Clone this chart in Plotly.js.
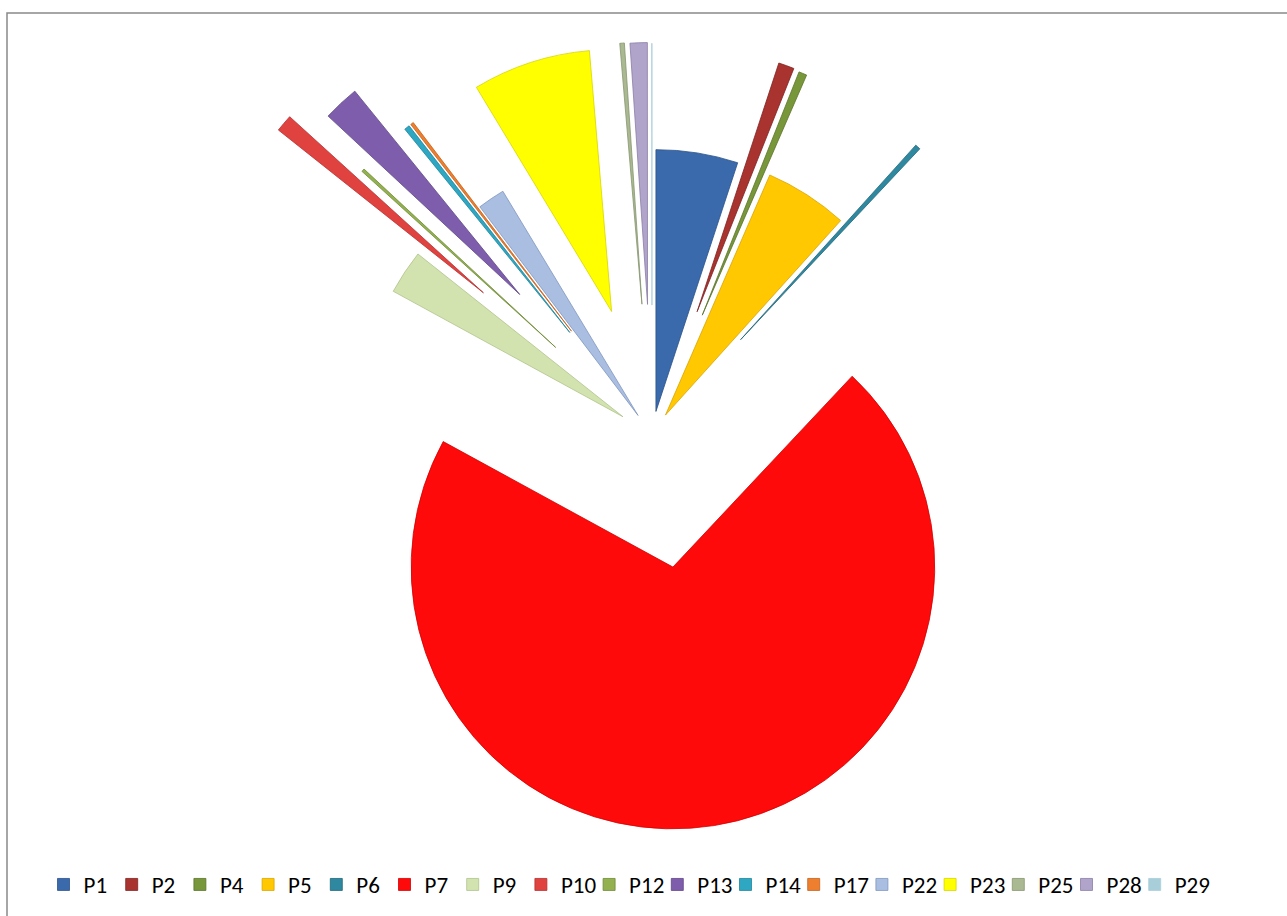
<!DOCTYPE html>
<html>
<head>
<meta charset="utf-8">
<script src="https://cdn.plot.ly/plotly-3.0.1.min.js"></script>
<style>
  html, body { margin: 0; padding: 0; overflow: hidden; background: #ffffff; }
  #wrap { position: relative; width: 1287px; height: 916px; overflow: hidden; }
  #chart { position: absolute; left: 0; top: -47px; width: 1287px; height: 1000px; }
</style>
</head>
<body>
<div id="wrap"><div id="chart"></div></div>
<script>
// ---- data (share of the whole, %) ----
const labels = ['P1','P2','P4','P5','P6','P7','P9','P10','P12','P13','P14','P17','P22','P23','P25','P28','P29'];
const values = [5.05, 0.97, 0.50, 5.14, 0.33, 70.90, 2.72, 1.06, 0.19, 2.22, 0.33, 0.19, 1.69, 7.28, 0.28, 1.06, 0.01];
// explosion of each slice (fraction of radius)
const pulls  = [0.095, 0.505, 0.50, 0.095, 0.50, 0.507, 0.133, 0.845, 0.50, 0.74, 0.505, 0.505, 0.095, 0.50, 0.505, 0.503, 0.50];
const colors = ['#3A6AAB','#A8332F','#78963A','#FFC800','#2E88A0','#FF0A0A','#D3E3B0','#E0423F','#93B24F','#7E5EAC','#2EA7C3','#EE7F2E','#A9BEE0','#FFFF00','#AAB992','#B1A4CB','#A8CEDA'];
const edges  = ['#2A5289','#7F2321','#5A7429','#D9A500','#1F6678','#D00000','#AFC48A','#B43030','#6F8A36','#5E4585','#1F849B','#C4611C','#7F96BF','#D6D600','#869570','#8A7DA6','#A8CEDA'];

// ---- layout geometry ----
const W = 1287, H = 1000;
const M = { l: 17, r: 0, t: 0, b: 34 };
const pw = W - M.l - M.r, ph = H - M.t - M.b;
const OFFSET = 47; // page y = figure y - OFFSET
const px2x = px => (px - M.l) / pw;
const py2y = py => (ph - (py + OFFSET - M.t)) / ph;

const trace = {
  type: 'pie',
  labels: labels,
  values: values,
  pull: pulls,
  sort: false,
  direction: 'clockwise',
  rotation: 0,
  textinfo: 'none',
  hoverinfo: 'label+percent',
  marker: { colors: colors, line: { color: edges, width: 0.8 } },
  showlegend: true
};

const layout = {
  width: W, height: H,
  margin: M,
  paper_bgcolor: '#ffffff',
  plot_bgcolor: '#ffffff',
  font: { family: 'Carlito, Calibri, Lato, sans-serif', color: '#000000' },
  showlegend: true,
  legend: {
    orientation: 'h',
    x: px2x(43.5), xanchor: 'left',
    y: py2y(884.5), yanchor: 'middle',
    font: { size: 23, family: 'Carlito, Calibri, Lato, sans-serif', color: '#000000' },
    entrywidth: 23.2, entrywidthmode: 'pixels',
    bgcolor: 'rgba(0,0,0,0)', borderwidth: 0,
    traceorder: 'normal'
  },
  shapes: [{
    type: 'rect', xref: 'paper', yref: 'paper',
    x0: px2x(7), x1: px2x(1320), y0: py2y(960), y1: py2y(13),
    line: { color: '#898989', width: 1.5 }, fillcolor: 'rgba(0,0,0,0)', layer: 'below'
  }]
};

Plotly.newPlot('chart', [trace], layout, { displayModeBar: false, staticPlot: true }).then(gd => {
  // let the last legend label show in full (fixed entry width would clip it)
  gd.querySelectorAll('.legend .scrollbox, .legend').forEach(el => el.removeAttribute('clip-path'));
});
</script>
</body>
</html>
